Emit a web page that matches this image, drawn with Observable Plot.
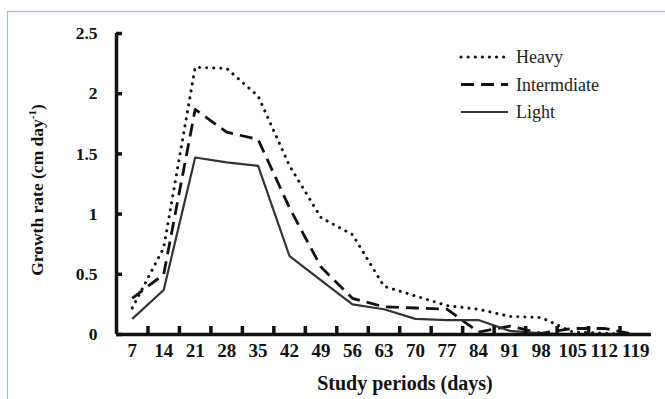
<!DOCTYPE html>
<html><head><meta charset="utf-8">
<script src="https://cdn.jsdelivr.net/npm/d3@7"></script>
<script src="https://cdn.jsdelivr.net/npm/@observablehq/plot@0.6"></script>
<style>
html,body{margin:0;padding:0;background:#fff;}
#wrap{position:relative;width:665px;height:399px;overflow:hidden;}
#frame{position:absolute;left:7px;top:11px;width:680px;height:420px;border:1.5px solid #74d2c6;box-sizing:border-box;}
#chart{position:absolute;left:0;top:0;}
#chart text{font-family:"Liberation Serif","Times New Roman",serif !important;}
</style></head>
<body><div id="wrap"><div id="frame"></div><div id="chart"></div></div>
<script>
const days = [7,14,21,28,35,42,49,56,63,70,77,84,91,98,105,112,119];
const heavy = [0.22,0.72,2.22,2.21,1.98,1.40,0.97,0.83,0.40,0.32,0.24,0.21,0.15,0.14,0.02,0.01,0];
const intermediate = [0.30,0.50,1.87,1.68,1.62,1.05,0.56,0.30,0.23,0.22,0.21,0.02,0.07,0.01,0.05,0.05,0];
const light = [0.13,0.37,1.47,1.43,1.40,0.65,0.45,0.25,0.21,0.13,0.12,0.12,0.03,0.01,0,0,0];
const yTicks = [0,0.5,1,1.5,2,2.5];
const seriesNames = ["Heavy","Intermdiate","Light"];

const styles = {
  Heavy: {stroke:"#111", strokeWidth:3, dash:"0.1,7", cap:"round"},
  Intermdiate: {stroke:"#111", strokeWidth:2.8, dash:"13,7", cap:"butt"},
  Light: {stroke:"#333", strokeWidth:2.2, dash:null, cap:"butt"}
};
const seriesVals = [heavy, intermediate, light];
const half = (days[1]-days[0])/2;
const xMin = days[0]-half, xMax = days[days.length-1]+half;
const boundaries = days.slice(0,-1).map(d => d + half);
const font = "Liberation Serif, Times New Roman, serif";

const lineMarks = seriesNames.map((name,i) => {
  const s = styles[name];
  return Plot.line(days.map((d,j)=>({day:d, v:seriesVals[i][j]})), {
    x:"day", y:"v", stroke:s.stroke, strokeWidth:s.strokeWidth,
    strokeDasharray:s.dash, strokeLinecap:s.cap, strokeLinejoin:"round"
  });
});

const plot = Plot.plot({
  width:665, height:399,
  marginLeft:116, marginRight:14, marginTop:33, marginBottom:65,
  style:{fontFamily:font, background:"transparent", overflow:"visible"},
  x:{type:"linear", domain:[xMin, xMax]},
  y:{domain:[0,2.5]},
  marks:[
    ...lineMarks,
    Plot.axisX({ticks:days, tickSize:0, tickPadding:9, tickFormat:d=>String(d), fontSize:19, fontWeight:"bold", fill:"#111", label:null}),
    Plot.axisY({ticks:yTicks, tickSize:0, tickPadding:19, tickFormat:d=>String(d), fontSize:17.5, fontWeight:"bold", fill:"#111", label:null}),
    Plot.ruleY([0], {x1:xMin, x2:xMax, stroke:"#111", strokeWidth:3.5}),
    Plot.ruleX([xMin], {y1:0, y2:2.5, stroke:"#111", strokeWidth:3.5}),
    Plot.ruleX(boundaries, {y1:0, y2:0, insetTop:-8, stroke:"#111", strokeWidth:3.5}),
    Plot.ruleY(yTicks, {x1:xMin, x2:xMin, insetRight:-6, stroke:"#111", strokeWidth:3.5})
  ]
});
document.getElementById("chart").appendChild(plot);

const svg = d3.select(plot);
// x title
svg.append("text").attr("x",405).attr("y",390).attr("text-anchor","middle")
  .style("font-family",font).attr("font-size",20).attr("font-weight","bold").attr("fill","#111")
  .text("Study periods (days)");
// y title with superscript
const yt = svg.append("text").attr("transform","translate(43,190) rotate(-90)").attr("text-anchor","middle")
  .style("font-family",font).attr("font-size",17.5).attr("font-weight","bold").attr("fill","#111");
yt.append("tspan").text("Growth rate (cm day");
yt.append("tspan").attr("font-size",11).attr("dy",-7).text("-1");
yt.append("tspan").attr("dy",7).text(")");
// legend
const leg = svg.append("g");
seriesNames.forEach((name,i) => {
  const s = styles[name];
  const yy = 57 + i*27.5;
  leg.append("line").attr("x1",461).attr("x2",508).attr("y1",yy).attr("y2",yy)
    .attr("stroke",s.stroke).attr("stroke-width",s.strokeWidth)
    .attr("stroke-dasharray",s.dash).attr("stroke-linecap",s.cap);
  leg.append("text").attr("x",516).attr("y",yy+6).attr("text-anchor","start")
    .style("font-family",font).attr("font-size",18)
    .attr("fill","#222").text(name);
});
</script>
</body></html>
